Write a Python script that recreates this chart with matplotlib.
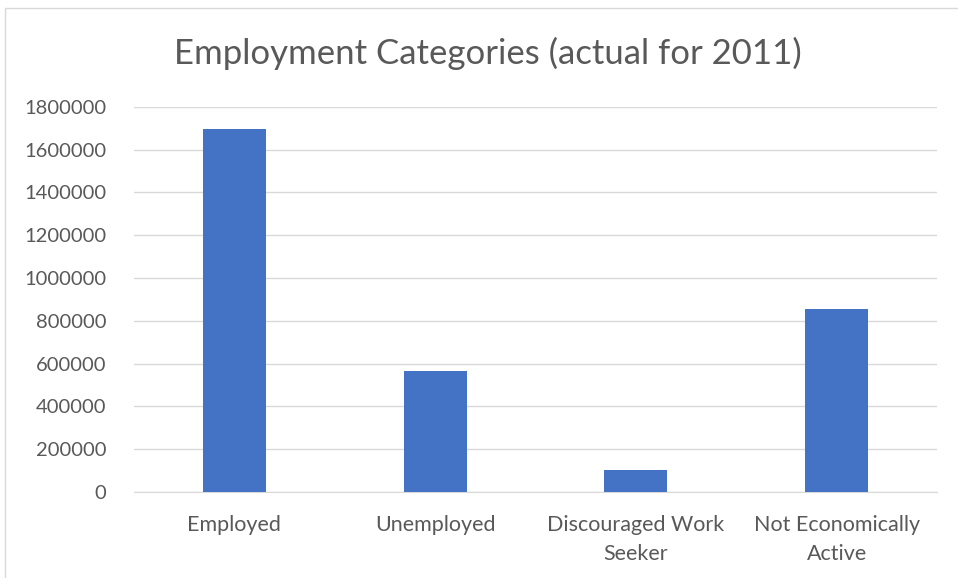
import matplotlib.pyplot as plt
from matplotlib.patches import Rectangle

# Employment categories, 2011 actuals
categories = ['Employed', 'Unemployed', 'Discouraged Work\nSeeker', 'Not Economically\nActive']
counts = [1697000, 566000, 103000, 856000]
y_ticks = list(range(0, 1800001, 200000))

plt.rcParams['font.family'] = ['Lato', 'DejaVu Sans']
text_color = '#595959'

fig = plt.figure(figsize=(9.58, 5.78), dpi=100)
ax = fig.add_axes([134 / 958, 0.149, 803 / 958, 0.666])

# chart frame
fig.patches.append(Rectangle((5 / 958, -0.1), 1.2, 1 - 8 / 578 + 0.1, transform=fig.transFigure,
                             fill=False, edgecolor='#D9D9D9', linewidth=1.0))

x = range(len(categories))
ax.bar(x, counts, width=0.315, color='#4472C4', zorder=3)

ax.set_ylim(0, 1800000)
ax.set_xlim(-0.5, len(categories) - 0.5)
ax.set_yticks(y_ticks)
ax.set_yticklabels([str(v) for v in y_ticks])
ax.set_xticks(list(x))
ax.set_xticklabels(categories, linespacing=1.55)
ax.yaxis.grid(True, color='#D9D9D9', linewidth=1.0, zorder=0)
ax.tick_params(axis='both', length=0, labelsize=14.5, colors=text_color)
ax.tick_params(axis='x', pad=17, labelsize=15.5)
ax.tick_params(axis='y', pad=20)
for side in ['top', 'right', 'left']:
    ax.spines[side].set_visible(False)
ax.spines['bottom'].set_color('#D9D9D9')

fig.text(488 / 958, 0.907, 'Employment Categories (actual for 2011)', ha='center', va='center',
         fontsize=25, color=text_color)

fig.savefig('out.png', dpi=100)
